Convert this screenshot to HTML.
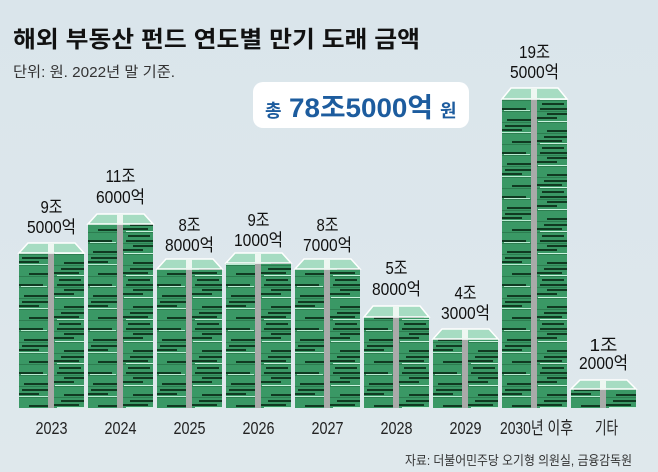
<!DOCTYPE html>
<html><head><meta charset="utf-8"><style>
html,body{margin:0;padding:0;background:#dce6eb;}
svg{display:block;}
text{font-family:"Liberation Sans","Noto Sans CJK KR",sans-serif;}
</style></head><body>
<svg width="658" height="472" viewBox="0 0 658 472" xmlns="http://www.w3.org/2000/svg">
<defs>
<linearGradient id="bg" x1="0" y1="0" x2="0" y2="1">
<stop offset="0" stop-color="#dae5eb"/><stop offset="1" stop-color="#dfe8ec"/>
</linearGradient>
<pattern id="p" patternUnits="userSpaceOnUse" x="19" y="408" width="69" height="44">
<rect x="0" y="0" width="65" height="44" fill="#3a9865"/>
<rect x="0" y="0" width="65" height="1" fill="#2d7d50"/>
<rect x="0" y="11" width="65" height="1" fill="#2d7d50"/>
<rect x="0" y="22" width="65" height="1" fill="#2d7d50"/>
<rect x="0" y="33" width="65" height="1" fill="#2d7d50"/>
<rect x="0" y="8" width="24" height="2" fill="#103a21"/>
<rect x="40" y="3" width="22" height="2" fill="#103a21"/>
<rect x="38" y="8" width="27" height="2" fill="#103a21"/>
<rect x="2" y="10" width="26" height="1" fill="#b9ecd2"/>
<rect x="5" y="19" width="24" height="2" fill="#103a21"/>
<rect x="35" y="17" width="20" height="2" fill="#103a21"/>
<rect x="45" y="13" width="20" height="2" fill="#103a21"/>
<rect x="36" y="21" width="29" height="1" fill="#c9f3de"/>
<rect x="0" y="29" width="20" height="2" fill="#103a21"/>
<rect x="3" y="25" width="26" height="2" fill="#103a21"/>
<rect x="45" y="30" width="20" height="2" fill="#103a21"/>
<rect x="0" y="32" width="29" height="1" fill="#b9ecd2"/>
<rect x="10" y="41" width="19" height="2" fill="#103a21"/>
<rect x="35" y="40" width="25" height="2" fill="#103a21"/>
<rect x="42" y="36" width="23" height="2" fill="#103a21"/>
<rect x="38" y="43" width="27" height="1" fill="#c9f3de"/>
<rect x="29" y="0" width="6" height="44" fill="#a9aaa9"/>
</pattern>
</defs>
<rect width="658" height="472" fill="url(#bg)"/>

<text x="13" y="47" font-size="23" font-weight="bold" fill="#111" textLength="407" lengthAdjust="spacingAndGlyphs">해외 부동산 펀드 연도별 만기 도래 금액</text>
<text x="13" y="77" font-size="14.5" fill="#333" textLength="162" lengthAdjust="spacingAndGlyphs">단위: 원. 2022년 말 기준.</text>

<rect x="253" y="82" width="216" height="46" rx="10" fill="#ffffff"/>
<text x="265" y="117" font-size="18" font-weight="bold" fill="#1d5c9e">총</text>
<text x="289" y="117" font-size="27" font-weight="bold" fill="#1d5c9e" textLength="144" lengthAdjust="spacingAndGlyphs">78조5000억</text>
<text x="440" y="117" font-size="18" font-weight="bold" fill="#1d5c9e">원</text>

<!-- bars -->
<g>
<rect x="19" y="253" width="65" height="155" fill="url(#p)"/>
<polygon points="19,253 28,243 75,243 84,253" fill="#a6dcc2" stroke="#ffffff" stroke-width="1.5"/>
<rect x="48" y="243" width="6" height="10" fill="#eef7f2"/>

<rect x="88" y="224" width="65" height="184" fill="url(#p)"/>
<polygon points="88,224 97,214 144,214 153,224" fill="#a6dcc2" stroke="#ffffff" stroke-width="1.5"/>
<rect x="117" y="214" width="6" height="10" fill="#eef7f2"/>

<rect x="157" y="269" width="65" height="139" fill="url(#p)"/>
<polygon points="157,269 166,259 213,259 222,269" fill="#a6dcc2" stroke="#ffffff" stroke-width="1.5"/>
<rect x="186" y="259" width="6" height="10" fill="#eef7f2"/>

<rect x="226" y="263" width="65" height="145" fill="url(#p)"/>
<polygon points="226,263 235,253 282,253 291,263" fill="#a6dcc2" stroke="#ffffff" stroke-width="1.5"/>
<rect x="255" y="253" width="6" height="10" fill="#eef7f2"/>

<rect x="295" y="269" width="65" height="139" fill="url(#p)"/>
<polygon points="295,269 304,259 351,259 360,269" fill="#a6dcc2" stroke="#ffffff" stroke-width="1.5"/>
<rect x="324" y="259" width="6" height="10" fill="#eef7f2"/>

<rect x="364" y="317" width="65" height="91" fill="url(#p)"/>
<polygon points="364,317 373,306 420,306 429,317" fill="#a6dcc2" stroke="#ffffff" stroke-width="1.5"/>
<rect x="393" y="306" width="6" height="11" fill="#eef7f2"/>

<rect x="433" y="339" width="65" height="69" fill="url(#p)"/>
<polygon points="433,339 442,329 489,329 498,339" fill="#a6dcc2" stroke="#ffffff" stroke-width="1.5"/>
<rect x="462" y="329" width="6" height="10" fill="#eef7f2"/>

<rect x="502" y="99" width="65" height="309" fill="url(#p)"/>
<polygon points="502,99 511,88 558,88 567,99" fill="#a6dcc2" stroke="#ffffff" stroke-width="1.5"/>
<rect x="531" y="88" width="6" height="11" fill="#eef7f2"/>

<rect x="571" y="389" width="65" height="19" fill="url(#p)"/>
<polygon points="571,389 580,380 627,380 636,389" fill="#a6dcc2" stroke="#ffffff" stroke-width="1.5"/>
<rect x="600" y="380" width="6" height="9" fill="#eef7f2"/>
</g>

<!-- value labels -->
<g font-size="17.5" fill="#111" text-anchor="middle">
<text x="51.5" y="213" textLength="22" lengthAdjust="spacingAndGlyphs">9조</text>
<text x="51.5" y="233" textLength="49" lengthAdjust="spacingAndGlyphs">5000억</text>
<text x="120.5" y="182" textLength="30" lengthAdjust="spacingAndGlyphs">11조</text>
<text x="120.5" y="203" textLength="49" lengthAdjust="spacingAndGlyphs">6000억</text>
<text x="189.5" y="231" textLength="22" lengthAdjust="spacingAndGlyphs">8조</text>
<text x="189.5" y="251" textLength="49" lengthAdjust="spacingAndGlyphs">8000억</text>
<text x="258.5" y="226" textLength="22" lengthAdjust="spacingAndGlyphs">9조</text>
<text x="258.5" y="246" textLength="49" lengthAdjust="spacingAndGlyphs">1000억</text>
<text x="327.5" y="231" textLength="22" lengthAdjust="spacingAndGlyphs">8조</text>
<text x="327.5" y="251" textLength="49" lengthAdjust="spacingAndGlyphs">7000억</text>
<text x="396.5" y="274" textLength="22" lengthAdjust="spacingAndGlyphs">5조</text>
<text x="396.5" y="295" textLength="49" lengthAdjust="spacingAndGlyphs">8000억</text>
<text x="465.5" y="299" textLength="22" lengthAdjust="spacingAndGlyphs">4조</text>
<text x="465.5" y="319" textLength="49" lengthAdjust="spacingAndGlyphs">3000억</text>
<text x="534.5" y="58" textLength="31" lengthAdjust="spacingAndGlyphs">19조</text>
<text x="534.5" y="78" textLength="49" lengthAdjust="spacingAndGlyphs">5000억</text>
<text x="603.5" y="351" textLength="28" lengthAdjust="spacingAndGlyphs">1조</text>
<text x="603.5" y="369" textLength="49" lengthAdjust="spacingAndGlyphs">2000억</text>
</g>

<!-- x labels -->
<g font-size="17.5" fill="#222" text-anchor="middle">
<text x="51.5" y="434" textLength="32" lengthAdjust="spacingAndGlyphs">2023</text>
<text x="120.5" y="434" textLength="32" lengthAdjust="spacingAndGlyphs">2024</text>
<text x="189.5" y="434" textLength="32" lengthAdjust="spacingAndGlyphs">2025</text>
<text x="258.5" y="434" textLength="32" lengthAdjust="spacingAndGlyphs">2026</text>
<text x="327.5" y="434" textLength="32" lengthAdjust="spacingAndGlyphs">2027</text>
<text x="396.5" y="434" textLength="32" lengthAdjust="spacingAndGlyphs">2028</text>
<text x="465.5" y="434" textLength="32" lengthAdjust="spacingAndGlyphs">2029</text>
<text x="536.5" y="434" textLength="73" lengthAdjust="spacingAndGlyphs">2030년 이후</text>
<text x="606.5" y="434" textLength="23" lengthAdjust="spacingAndGlyphs">기타</text>
</g>

<text x="632" y="465" font-size="13" fill="#333" text-anchor="end" textLength="227" lengthAdjust="spacingAndGlyphs">자료: 더불어민주당 오기형 의원실, 금융감독원</text>
</svg>
</body></html>
